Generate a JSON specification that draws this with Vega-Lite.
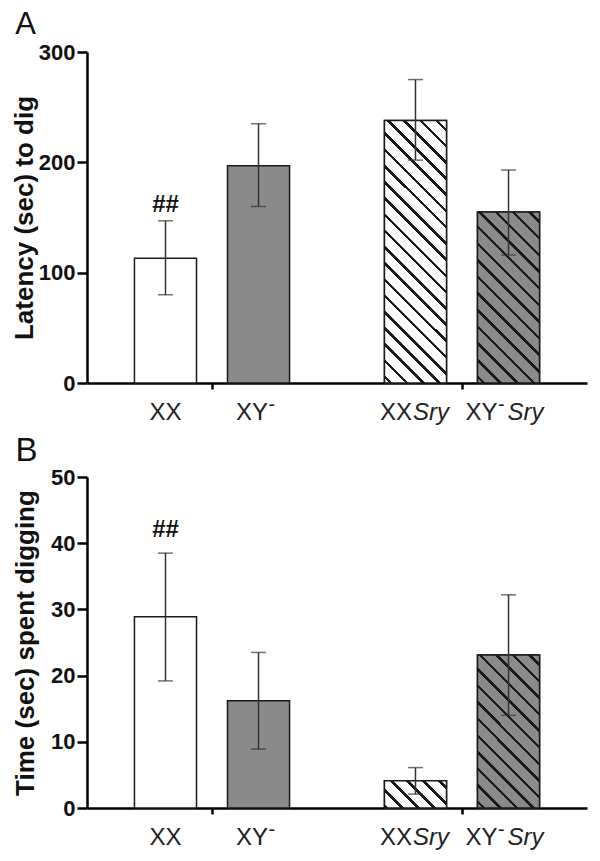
{
"$schema":"https://vega.github.io/schema/vega-lite/v6.json",
"padding":{"left":11,"top":9,"right":5,"bottom":5},
"spacing":10,
"config":{"view":{"stroke":null},"font":"Liberation Sans",
"axis":{"domainColor":"#000","domainWidth":2.5,"tickColor":"#000","tickWidth":2.5,"grid":false,"labelFont":"Liberation Sans","labelFontSize":22,"labelFontWeight":"bold","labelColor":"#111","titleFont":"Liberation Sans","titleFontSize":26,"titleFontWeight":"bold","titleColor":"#111"},
"axisY":{"tickSize":10,"labelPadding":2},
"text":{"font":"Liberation Sans","fontSize":24,"baseline":"alphabetic","color":"#222"},
"title":{"font":"Liberation Sans","fontWeight":"normal","color":"#111","anchor":"start","frame":"bounds","baseline":"alphabetic"}},
"vconcat":[
{
"width":500,"height":331,
"title":{"text":"A","fontSize":31,"offset":0,"dx":4},
"data":{"values":[
{"sry":"none","chrom":"XX","base":"XX","mean":113,"lo":80,"hi":147,"sig":"##"},
{"sry":"none","chrom":"XY⁻","base":"XY","mean":197,"lo":160,"hi":235,"sig":""},
{"sry":"Sry","chrom":"XX","base":"XX","mean":238,"lo":202,"hi":275,"sig":""},
{"sry":"Sry","chrom":"XY⁻","base":"XY","mean":155,"lo":116,"hi":193,"sig":""}
]},
"encoding":{
"x":{"field":"sry","type":"nominal","sort":["none","Sry"],"scale":{"paddingInner":0,"paddingOuter":0},"axis":{"labels":false,"title":null,"tickSize":6}},
"xOffset":{"field":"chrom","type":"nominal","sort":["XX","XY⁻"],"scale":{"paddingInner":0.333,"paddingOuter":0.51}}
},
"layer":[
{"mark":{"type":"bar","stroke":"#1a1a1a","strokeWidth":1.5},
"encoding":{"y":{"field":"mean","type":"quantitative","title":"Latency (sec) to dig","scale":{"domain":[0,300],"nice":false},"axis":{"values":[0,100,200,300],"titlePadding":1}},
"fill":{"field":"chrom","type":"nominal","scale":{"domain":["XX","XY⁻"],"range":["#ffffff","#8a8a8a"]},"legend":null}}},
{"transform":[{"filter":"datum.sry == 'Sry' && datum.chrom == 'XX'"}],
"mark":{"type":"bar","stroke":"#1a1a1a","strokeWidth":1.5,"fill":{"gradient":"linear","x1":1,"y1":0,"x2":0.7236,"y2":1.1708,"stops":[
{"offset":0,"color":"#fff"},
{"offset":0.025,"color":"#fff"},{"offset":0.025,"color":"#1a1a1a"},{"offset":0.036,"color":"#1a1a1a"},{"offset":0.036,"color":"#fff"},
{"offset":0.075,"color":"#fff"},{"offset":0.075,"color":"#1a1a1a"},{"offset":0.086,"color":"#1a1a1a"},{"offset":0.086,"color":"#fff"},
{"offset":0.125,"color":"#fff"},{"offset":0.125,"color":"#1a1a1a"},{"offset":0.136,"color":"#1a1a1a"},{"offset":0.136,"color":"#fff"},
{"offset":0.175,"color":"#fff"},{"offset":0.175,"color":"#1a1a1a"},{"offset":0.186,"color":"#1a1a1a"},{"offset":0.186,"color":"#fff"},
{"offset":0.225,"color":"#fff"},{"offset":0.225,"color":"#1a1a1a"},{"offset":0.236,"color":"#1a1a1a"},{"offset":0.236,"color":"#fff"},
{"offset":0.275,"color":"#fff"},{"offset":0.275,"color":"#1a1a1a"},{"offset":0.286,"color":"#1a1a1a"},{"offset":0.286,"color":"#fff"},
{"offset":0.325,"color":"#fff"},{"offset":0.325,"color":"#1a1a1a"},{"offset":0.336,"color":"#1a1a1a"},{"offset":0.336,"color":"#fff"},
{"offset":0.375,"color":"#fff"},{"offset":0.375,"color":"#1a1a1a"},{"offset":0.386,"color":"#1a1a1a"},{"offset":0.386,"color":"#fff"},
{"offset":0.425,"color":"#fff"},{"offset":0.425,"color":"#1a1a1a"},{"offset":0.436,"color":"#1a1a1a"},{"offset":0.436,"color":"#fff"},
{"offset":0.475,"color":"#fff"},{"offset":0.475,"color":"#1a1a1a"},{"offset":0.486,"color":"#1a1a1a"},{"offset":0.486,"color":"#fff"},
{"offset":0.525,"color":"#fff"},{"offset":0.525,"color":"#1a1a1a"},{"offset":0.536,"color":"#1a1a1a"},{"offset":0.536,"color":"#fff"},
{"offset":0.575,"color":"#fff"},{"offset":0.575,"color":"#1a1a1a"},{"offset":0.586,"color":"#1a1a1a"},{"offset":0.586,"color":"#fff"},
{"offset":0.625,"color":"#fff"},{"offset":0.625,"color":"#1a1a1a"},{"offset":0.636,"color":"#1a1a1a"},{"offset":0.636,"color":"#fff"},
{"offset":0.675,"color":"#fff"},{"offset":0.675,"color":"#1a1a1a"},{"offset":0.686,"color":"#1a1a1a"},{"offset":0.686,"color":"#fff"},
{"offset":0.725,"color":"#fff"},{"offset":0.725,"color":"#1a1a1a"},{"offset":0.736,"color":"#1a1a1a"},{"offset":0.736,"color":"#fff"},
{"offset":0.775,"color":"#fff"},{"offset":0.775,"color":"#1a1a1a"},{"offset":0.786,"color":"#1a1a1a"},{"offset":0.786,"color":"#fff"},
{"offset":0.825,"color":"#fff"},{"offset":0.825,"color":"#1a1a1a"},{"offset":0.836,"color":"#1a1a1a"},{"offset":0.836,"color":"#fff"},
{"offset":0.875,"color":"#fff"},{"offset":0.875,"color":"#1a1a1a"},{"offset":0.886,"color":"#1a1a1a"},{"offset":0.886,"color":"#fff"},
{"offset":0.925,"color":"#fff"},{"offset":0.925,"color":"#1a1a1a"},{"offset":0.936,"color":"#1a1a1a"},{"offset":0.936,"color":"#fff"},
{"offset":0.975,"color":"#fff"},{"offset":0.975,"color":"#1a1a1a"},{"offset":0.986,"color":"#1a1a1a"},{"offset":0.986,"color":"#fff"},
{"offset":1,"color":"#fff"}]}},
"encoding":{"y":{"field":"mean","type":"quantitative","title":"Latency (sec) to dig","scale":{"domain":[0,300],"nice":false}}}},
{"transform":[{"filter":"datum.sry == 'Sry' && datum.chrom == 'XY⁻'"}],
"mark":{"type":"bar","stroke":"#1a1a1a","strokeWidth":1.5,"fill":{"gradient":"linear","x1":1,"y1":0,"x2":0.5634,"y2":1.2043,"stops":[
{"offset":0,"color":"#8a8a8a"},
{"offset":0.036,"color":"#8a8a8a"},{"offset":0.036,"color":"#1a1a1a"},{"offset":0.051,"color":"#1a1a1a"},{"offset":0.051,"color":"#8a8a8a"},
{"offset":0.107,"color":"#8a8a8a"},{"offset":0.107,"color":"#1a1a1a"},{"offset":0.122,"color":"#1a1a1a"},{"offset":0.122,"color":"#8a8a8a"},
{"offset":0.179,"color":"#8a8a8a"},{"offset":0.179,"color":"#1a1a1a"},{"offset":0.194,"color":"#1a1a1a"},{"offset":0.194,"color":"#8a8a8a"},
{"offset":0.250,"color":"#8a8a8a"},{"offset":0.250,"color":"#1a1a1a"},{"offset":0.265,"color":"#1a1a1a"},{"offset":0.265,"color":"#8a8a8a"},
{"offset":0.321,"color":"#8a8a8a"},{"offset":0.321,"color":"#1a1a1a"},{"offset":0.336,"color":"#1a1a1a"},{"offset":0.336,"color":"#8a8a8a"},
{"offset":0.393,"color":"#8a8a8a"},{"offset":0.393,"color":"#1a1a1a"},{"offset":0.408,"color":"#1a1a1a"},{"offset":0.408,"color":"#8a8a8a"},
{"offset":0.464,"color":"#8a8a8a"},{"offset":0.464,"color":"#1a1a1a"},{"offset":0.479,"color":"#1a1a1a"},{"offset":0.479,"color":"#8a8a8a"},
{"offset":0.536,"color":"#8a8a8a"},{"offset":0.536,"color":"#1a1a1a"},{"offset":0.551,"color":"#1a1a1a"},{"offset":0.551,"color":"#8a8a8a"},
{"offset":0.607,"color":"#8a8a8a"},{"offset":0.607,"color":"#1a1a1a"},{"offset":0.622,"color":"#1a1a1a"},{"offset":0.622,"color":"#8a8a8a"},
{"offset":0.679,"color":"#8a8a8a"},{"offset":0.679,"color":"#1a1a1a"},{"offset":0.694,"color":"#1a1a1a"},{"offset":0.694,"color":"#8a8a8a"},
{"offset":0.750,"color":"#8a8a8a"},{"offset":0.750,"color":"#1a1a1a"},{"offset":0.765,"color":"#1a1a1a"},{"offset":0.765,"color":"#8a8a8a"},
{"offset":0.821,"color":"#8a8a8a"},{"offset":0.821,"color":"#1a1a1a"},{"offset":0.836,"color":"#1a1a1a"},{"offset":0.836,"color":"#8a8a8a"},
{"offset":0.893,"color":"#8a8a8a"},{"offset":0.893,"color":"#1a1a1a"},{"offset":0.908,"color":"#1a1a1a"},{"offset":0.908,"color":"#8a8a8a"},
{"offset":0.964,"color":"#8a8a8a"},{"offset":0.964,"color":"#1a1a1a"},{"offset":0.979,"color":"#1a1a1a"},{"offset":0.979,"color":"#8a8a8a"},
{"offset":1,"color":"#8a8a8a"}]}},
"encoding":{"y":{"field":"mean","type":"quantitative","title":"Latency (sec) to dig","scale":{"domain":[0,300],"nice":false}}}},
{"mark":{"type":"rule","color":"#333","strokeWidth":1.5},
"encoding":{"y":{"field":"lo","type":"quantitative","title":"Latency (sec) to dig","scale":{"domain":[0,300],"nice":false}},"y2":{"field":"hi"}}},
{"mark":{"type":"tick","color":"#333","thickness":1.5,"size":15},
"encoding":{"y":{"field":"hi","type":"quantitative","title":"Latency (sec) to dig","scale":{"domain":[0,300],"nice":false}}}},
{"mark":{"type":"tick","color":"#333","thickness":1.5,"size":15},
"encoding":{"y":{"field":"lo","type":"quantitative","title":"Latency (sec) to dig","scale":{"domain":[0,300],"nice":false}}}},
{"transform":[{"filter":"datum.sig != ''"}],
"mark":{"type":"text","fontSize":24,"fontWeight":"bold","dy":-9,"color":"#111"},
"encoding":{"y":{"field":"hi","type":"quantitative","title":"Latency (sec) to dig","scale":{"domain":[0,300],"nice":false}},"text":{"field":"sig"}}},
{"transform":[{"filter":"datum.sry == 'none' && datum.chrom == 'XX'"}],
"mark":{"type":"text","dy":37},
"encoding":{"y":{"datum":0},"text":{"field":"base"}}},
{"transform":[{"filter":"datum.sry == 'none' && datum.chrom == 'XY⁻'"}],
"mark":{"type":"text","align":"right","dx":9.5,"dy":37},
"encoding":{"y":{"datum":0},"text":{"field":"base"}}},
{"transform":[{"filter":"datum.sry == 'none' && datum.chrom == 'XY⁻'"}],
"mark":{"type":"text","text":"-","fontSize":20,"align":"left","dx":10,"dy":27.5},
"encoding":{"y":{"datum":0}}},
{"transform":[{"filter":"datum.sry == 'Sry' && datum.chrom == 'XX'"}],
"mark":{"type":"text","align":"right","dx":-3.5,"dy":37},
"encoding":{"y":{"datum":0},"text":{"field":"base"}}},
{"transform":[{"filter":"datum.sry == 'Sry' && datum.chrom == 'XX'"}],
"mark":{"type":"text","fontStyle":"italic","align":"left","dx":-2.5,"dy":37},
"encoding":{"y":{"datum":0},"text":{"field":"sry"}}},
{"transform":[{"filter":"datum.sry == 'Sry' && datum.chrom == 'XY⁻'"}],
"mark":{"type":"text","align":"right","dx":-11,"dy":37},
"encoding":{"y":{"datum":0},"text":{"field":"base"}}},
{"transform":[{"filter":"datum.sry == 'Sry' && datum.chrom == 'XY⁻'"}],
"mark":{"type":"text","text":"-","fontSize":20,"align":"left","dx":-10.5,"dy":27.5},
"encoding":{"y":{"datum":0}}},
{"transform":[{"filter":"datum.sry == 'Sry' && datum.chrom == 'XY⁻'"}],
"mark":{"type":"text","fontStyle":"italic","align":"left","dx":-1,"dy":37},
"encoding":{"y":{"datum":0},"text":{"field":"sry"}}}
]
},
{
"width":500,"height":331,
"title":{"text":"B","fontSize":33,"offset":-2,"dx":3},
"data":{"values":[
{"sry":"none","chrom":"XX","base":"XX","mean":28.9,"lo":19.2,"hi":38.5,"sig":"##"},
{"sry":"none","chrom":"XY⁻","base":"XY","mean":16.2,"lo":8.9,"hi":23.5,"sig":""},
{"sry":"Sry","chrom":"XX","base":"XX","mean":4.1,"lo":2.1,"hi":6.1,"sig":""},
{"sry":"Sry","chrom":"XY⁻","base":"XY","mean":23.1,"lo":14.0,"hi":32.2,"sig":""}
]},
"encoding":{
"x":{"field":"sry","type":"nominal","sort":["none","Sry"],"scale":{"paddingInner":0,"paddingOuter":0},"axis":{"labels":false,"title":null,"tickSize":6}},
"xOffset":{"field":"chrom","type":"nominal","sort":["XX","XY⁻"],"scale":{"paddingInner":0.333,"paddingOuter":0.51}}
},
"layer":[
{"mark":{"type":"bar","stroke":"#1a1a1a","strokeWidth":1.5},
"encoding":{"y":{"field":"mean","type":"quantitative","title":"Time (sec) spent digging","scale":{"domain":[0,50],"nice":false},"axis":{"values":[0,10,20,30,40,50],"titlePadding":12}},
"fill":{"field":"chrom","type":"nominal","scale":{"domain":["XX","XY⁻"],"range":["#ffffff","#8a8a8a"]},"legend":null}}},
{"transform":[{"filter":"datum.sry == 'Sry' && datum.chrom == 'XX'"}],
"mark":{"type":"bar","stroke":"#1a1a1a","strokeWidth":1.5,"fill":{"gradient":"linear","x1":1,"y1":0,"x2":-0.2066,"y2":0.5274,"stops":[
{"offset":0,"color":"#fff"},
{"offset":0.06,"color":"#fff"},{"offset":0.06,"color":"#1a1a1a"},{"offset":0.099,"color":"#1a1a1a"},{"offset":0.099,"color":"#fff"},
{"offset":0.24,"color":"#fff"},{"offset":0.24,"color":"#1a1a1a"},{"offset":0.279,"color":"#1a1a1a"},{"offset":0.279,"color":"#fff"},
{"offset":0.42,"color":"#fff"},{"offset":0.42,"color":"#1a1a1a"},{"offset":0.459,"color":"#1a1a1a"},{"offset":0.459,"color":"#fff"},
{"offset":0.60,"color":"#fff"},{"offset":0.60,"color":"#1a1a1a"},{"offset":0.639,"color":"#1a1a1a"},{"offset":0.639,"color":"#fff"},
{"offset":0.78,"color":"#fff"},{"offset":0.78,"color":"#1a1a1a"},{"offset":0.819,"color":"#1a1a1a"},{"offset":0.819,"color":"#fff"},
{"offset":0.96,"color":"#fff"},{"offset":0.96,"color":"#1a1a1a"},{"offset":0.999,"color":"#1a1a1a"},{"offset":0.999,"color":"#fff"},
{"offset":1,"color":"#fff"}]}},
"encoding":{"y":{"field":"mean","type":"quantitative","title":"Time (sec) spent digging","scale":{"domain":[0,50],"nice":false}}}},
{"transform":[{"filter":"datum.sry == 'Sry' && datum.chrom == 'XY⁻'"}],
"mark":{"type":"bar","stroke":"#1a1a1a","strokeWidth":1.5,"fill":{"gradient":"linear","x1":1,"y1":0,"x2":0.5086,"y2":1.2071,"stops":[
{"offset":0,"color":"#8a8a8a"},
{"offset":0.038,"color":"#8a8a8a"},{"offset":0.038,"color":"#1a1a1a"},{"offset":0.054,"color":"#1a1a1a"},{"offset":0.054,"color":"#8a8a8a"},
{"offset":0.115,"color":"#8a8a8a"},{"offset":0.115,"color":"#1a1a1a"},{"offset":0.131,"color":"#1a1a1a"},{"offset":0.131,"color":"#8a8a8a"},
{"offset":0.192,"color":"#8a8a8a"},{"offset":0.192,"color":"#1a1a1a"},{"offset":0.208,"color":"#1a1a1a"},{"offset":0.208,"color":"#8a8a8a"},
{"offset":0.269,"color":"#8a8a8a"},{"offset":0.269,"color":"#1a1a1a"},{"offset":0.285,"color":"#1a1a1a"},{"offset":0.285,"color":"#8a8a8a"},
{"offset":0.346,"color":"#8a8a8a"},{"offset":0.346,"color":"#1a1a1a"},{"offset":0.362,"color":"#1a1a1a"},{"offset":0.362,"color":"#8a8a8a"},
{"offset":0.423,"color":"#8a8a8a"},{"offset":0.423,"color":"#1a1a1a"},{"offset":0.439,"color":"#1a1a1a"},{"offset":0.439,"color":"#8a8a8a"},
{"offset":0.500,"color":"#8a8a8a"},{"offset":0.500,"color":"#1a1a1a"},{"offset":0.516,"color":"#1a1a1a"},{"offset":0.516,"color":"#8a8a8a"},
{"offset":0.577,"color":"#8a8a8a"},{"offset":0.577,"color":"#1a1a1a"},{"offset":0.593,"color":"#1a1a1a"},{"offset":0.593,"color":"#8a8a8a"},
{"offset":0.654,"color":"#8a8a8a"},{"offset":0.654,"color":"#1a1a1a"},{"offset":0.670,"color":"#1a1a1a"},{"offset":0.670,"color":"#8a8a8a"},
{"offset":0.731,"color":"#8a8a8a"},{"offset":0.731,"color":"#1a1a1a"},{"offset":0.747,"color":"#1a1a1a"},{"offset":0.747,"color":"#8a8a8a"},
{"offset":0.808,"color":"#8a8a8a"},{"offset":0.808,"color":"#1a1a1a"},{"offset":0.824,"color":"#1a1a1a"},{"offset":0.824,"color":"#8a8a8a"},
{"offset":0.885,"color":"#8a8a8a"},{"offset":0.885,"color":"#1a1a1a"},{"offset":0.901,"color":"#1a1a1a"},{"offset":0.901,"color":"#8a8a8a"},
{"offset":0.962,"color":"#8a8a8a"},{"offset":0.962,"color":"#1a1a1a"},{"offset":0.978,"color":"#1a1a1a"},{"offset":0.978,"color":"#8a8a8a"},
{"offset":1,"color":"#8a8a8a"}]}},
"encoding":{"y":{"field":"mean","type":"quantitative","title":"Time (sec) spent digging","scale":{"domain":[0,50],"nice":false}}}},
{"mark":{"type":"rule","color":"#333","strokeWidth":1.5},
"encoding":{"y":{"field":"lo","type":"quantitative","title":"Time (sec) spent digging","scale":{"domain":[0,50],"nice":false}},"y2":{"field":"hi"}}},
{"mark":{"type":"tick","color":"#333","thickness":1.5,"size":15},
"encoding":{"y":{"field":"hi","type":"quantitative","title":"Time (sec) spent digging","scale":{"domain":[0,50],"nice":false}}}},
{"mark":{"type":"tick","color":"#333","thickness":1.5,"size":15},
"encoding":{"y":{"field":"lo","type":"quantitative","title":"Time (sec) spent digging","scale":{"domain":[0,50],"nice":false}}}},
{"transform":[{"filter":"datum.sig != ''"}],
"mark":{"type":"text","fontSize":24,"fontWeight":"bold","dy":-16,"color":"#111"},
"encoding":{"y":{"field":"hi","type":"quantitative","title":"Time (sec) spent digging","scale":{"domain":[0,50],"nice":false}},"text":{"field":"sig"}}},
{"transform":[{"filter":"datum.sry == 'none' && datum.chrom == 'XX'"}],
"mark":{"type":"text","dy":37},
"encoding":{"y":{"datum":0},"text":{"field":"base"}}},
{"transform":[{"filter":"datum.sry == 'none' && datum.chrom == 'XY⁻'"}],
"mark":{"type":"text","align":"right","dx":9.5,"dy":37},
"encoding":{"y":{"datum":0},"text":{"field":"base"}}},
{"transform":[{"filter":"datum.sry == 'none' && datum.chrom == 'XY⁻'"}],
"mark":{"type":"text","text":"-","fontSize":20,"align":"left","dx":10,"dy":27.5},
"encoding":{"y":{"datum":0}}},
{"transform":[{"filter":"datum.sry == 'Sry' && datum.chrom == 'XX'"}],
"mark":{"type":"text","align":"right","dx":-3.5,"dy":37},
"encoding":{"y":{"datum":0},"text":{"field":"base"}}},
{"transform":[{"filter":"datum.sry == 'Sry' && datum.chrom == 'XX'"}],
"mark":{"type":"text","fontStyle":"italic","align":"left","dx":-2.5,"dy":37},
"encoding":{"y":{"datum":0},"text":{"field":"sry"}}},
{"transform":[{"filter":"datum.sry == 'Sry' && datum.chrom == 'XY⁻'"}],
"mark":{"type":"text","align":"right","dx":-11,"dy":37},
"encoding":{"y":{"datum":0},"text":{"field":"base"}}},
{"transform":[{"filter":"datum.sry == 'Sry' && datum.chrom == 'XY⁻'"}],
"mark":{"type":"text","text":"-","fontSize":20,"align":"left","dx":-10.5,"dy":27.5},
"encoding":{"y":{"datum":0}}},
{"transform":[{"filter":"datum.sry == 'Sry' && datum.chrom == 'XY⁻'"}],
"mark":{"type":"text","fontStyle":"italic","align":"left","dx":-1,"dy":37},
"encoding":{"y":{"datum":0},"text":{"field":"sry"}}}
]
}
]
}
